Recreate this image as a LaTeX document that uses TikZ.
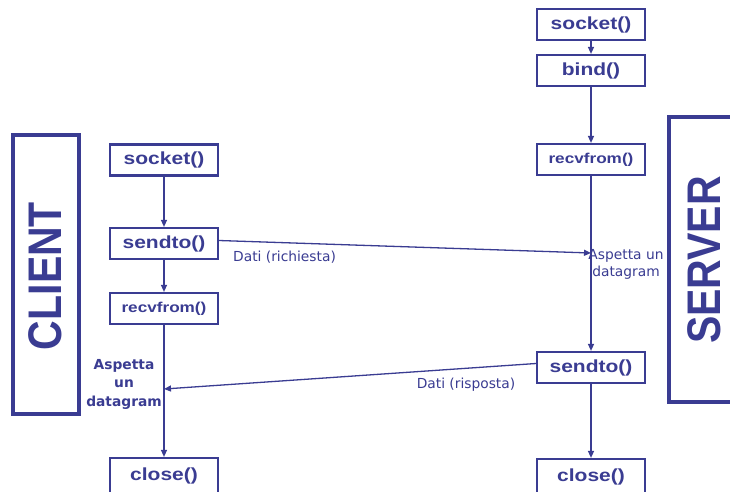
\documentclass[tikz,border=0pt]{standalone}
\usepackage{fontspec}
\usetikzlibrary{arrows.meta}
\setmainfont{Liberation Sans}
\newfontfamily\callfont[FakeStretch=1.2]{Liberation Sans}
\newfontfamily\notefont{DejaVu Sans}
\definecolor{ink}{RGB}{58,60,146}

\tikzset{
  call/.style={draw=ink, line width=2.2pt, minimum width=108pt, minimum height=31pt,
    inner sep=0pt, text=ink, font=\callfont\bfseries\fontsize{17.5}{20}\selectfont},
  smallcall/.style={call, font=\callfont\bfseries\fontsize{14.3}{17}\selectfont},
  flow/.style={draw=ink, line width=1.3pt, -{Triangle[length=7pt,width=6pt]}},
  note/.style={text=ink, inner sep=0pt, align=center,
    font=\notefont\fontsize{13.8}{17}\selectfont},
  boldnote/.style={note, font=\notefont\bfseries\fontsize{13.8}{18.5}\selectfont},
  side/.style={draw=ink, line width=3.5pt, inner sep=0pt},
  sidetext/.style={text=ink, rotate=90, inner sep=0pt,
    font=\bfseries\fontsize{41}{45}\selectfont}
}

\begin{document}
\begin{tikzpicture}[x=1pt,y=-1pt]
\clip (0,0) rectangle (730,491);
\fill[white] (0,0) rectangle (730,491);

% side frames
\node[side, minimum width=66pt, minimum height=279pt] (clientframe) at (46,274.5) {};
\node[sidetext] (clientname) at (45,276) {\scalebox{1}[1.15]{CLIENT}};
\node[side, minimum width=76pt, minimum height=285pt] (serverframe) at (707,259.5) {};
\node[sidetext] (servername) at (704,260) {\scalebox{1}[1.15]{SERVER}};

% client calls
\node[call] (cs) at (164,160) {socket()};
\node[call] (cst) at (164,243.5) {sendto()};
\node[smallcall] (cr) at (164,308.5) {recvfrom()};
\node[call, minimum height=36pt] (cc) at (164,476) {close()};

% server calls
\node[call] (ss) at (591,24.5) {socket()};
\node[call] (sb) at (591,70.5) {bind()};
\node[smallcall] (sr) at (591,159.5) {recvfrom()};
\node[call] (sst) at (591,367.5) {sendto()};
\node[call, minimum height=36pt] (sc) at (591,477) {close()};

% sequence inside each side
\draw[flow] (cs) -- (cst);
\draw[flow] (cst) -- (cr);
\draw[flow] (cr) -- (cc);
\draw[flow] (ss) -- (sb);
\draw[flow] (sb) -- (sr);
\draw[flow] (sr) -- (sst);
\draw[flow] (sst) -- (sc);

% datagrams exchanged
\coordinate (reqend) at (591,253);
\coordinate (resend) at (164,389);
\draw[flow] ([yshift=3pt]cst.east) -- (reqend);
\draw[flow] ([yshift=4pt]sst.west) -- (resend);

\node[note, anchor=west] (req) at (233,257) {Dati (richiesta)};
\node[note] (res) at (466,385) {Dati (risposta)};
\node[note] (swait) at (626,264.5) {Aspetta un\\datagram};
\node[boldnote] (cwait) at (124,384) {Aspetta\\un\\datagram};
\end{tikzpicture}
\end{document}
